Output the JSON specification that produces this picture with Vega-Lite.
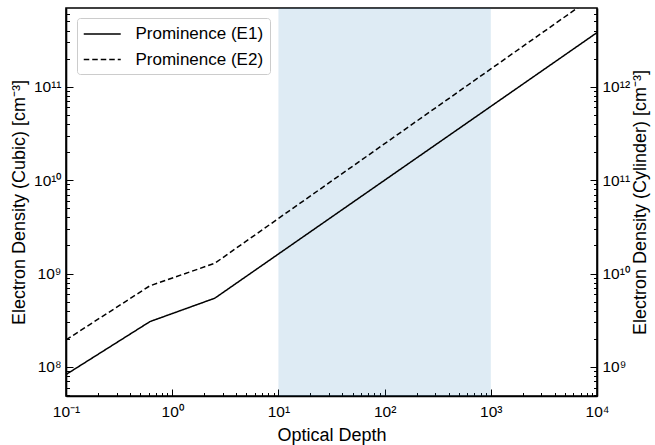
{
  "$schema": "https://vega.github.io/schema/vega-lite/v6.json",
  "width": 531,
  "height": 388,
  "autosize": "none",
  "padding": {"left": 66, "top": 8, "right": 58, "bottom": 49},
  "background": "white",
  "config": {
    "view": {"stroke": "black", "strokeWidth": 1.6},
    "font": "Liberation Sans",
    "axis": {
      "grid": false,
      "domainColor": "black",
      "domainWidth": 1.6,
      "tickColor": "black",
      "tickWidth": 1,
      "labelColor": "black",
      "labelFont": "Liberation Sans",
      "labelFontSize": 15.5,
      "titleColor": "black",
      "titleFont": "Liberation Sans",
      "titleFontSize": 18,
      "titleFontWeight": "normal",
      "labelOverlap": false,
      "labelFlush": false,
      "labelBound": false
    }
  },
  "datasets": {
    "band": [{"start": 10, "end": 1000}],
    "lines": [
      {"depth": 0.1, "density": 8.3e7, "series": "Prominence (E1)"},
      {"depth": 0.617, "density": 3.06e8, "series": "Prominence (E1)"},
      {"depth": 2.52, "density": 5.45e8, "series": "Prominence (E1)"},
      {"depth": 10000, "density": 3.8e11, "series": "Prominence (E1)"},
      {"depth": 0.1, "density": 1.95e8, "series": "Prominence (E2)"},
      {"depth": 0.617, "density": 7.4e8, "series": "Prominence (E2)"},
      {"depth": 2.52, "density": 1.29e9, "series": "Prominence (E2)"},
      {"depth": 10000, "density": 9.8e11, "series": "Prominence (E2)"}
    ]
  },
  "layer": [
    {
      "data": {"name": "band"},
      "mark": {"type": "rect", "color": "#1f77b4", "opacity": 0.15},
      "encoding": {
        "x": {"field": "start", "type": "quantitative", "title": "Optical Depth",
              "scale": {"type": "log", "domain": [0.1, 10000], "nice": false}},
        "x2": {"field": "end"}
      }
    },
    {
      "data": {"name": "lines"},
      "mark": {"type": "line", "strokeWidth": 1.5, "clip": true},
      "encoding": {
        "x": {"field": "depth", "type": "quantitative", "title": "Optical Depth",
              "scale": {"type": "log", "domain": [0.1, 10000], "nice": false},
              "axis": {
                "values": [0.1,0.2,0.3,0.4,0.5,0.6,0.7,0.8,0.9,1,2,3,4,5,6,7,8,9,10,20,30,40,50,60,70,80,90,100,200,300,400,500,600,700,800,900,1000,2000,3000,4000,5000,6000,7000,8000,9000,10000],
                "labelExpr": "datum.value==0.1?'10⁻¹':datum.value==1?'10⁰':datum.value==10?'10¹':datum.value==100?'10²':datum.value==1000?'10³':datum.value==10000?'10⁴':''",
                "tickSize": {"condition": {"test": "abs(log(datum.value)/LN10 - round(log(datum.value)/LN10)) < 0.001", "value": -7}, "value": -3.5},
                "labelPadding": 15,
                "titlePadding": 3
              }},
        "y": {"field": "density", "type": "quantitative", "title": "Electron Density (Cubic) [cm⁻³]",
              "scale": {"type": "log", "domain": [4.89e7, 6.97e11], "nice": false},
              "axis": {
                "values": [5e7,6e7,7e7,8e7,9e7,1e8,2e8,3e8,4e8,5e8,6e8,7e8,8e8,9e8,1e9,2e9,3e9,4e9,5e9,6e9,7e9,8e9,9e9,1e10,2e10,3e10,4e10,5e10,6e10,7e10,8e10,9e10,1e11,2e11,3e11,4e11,5e11,6e11],
                "labelExpr": "datum.value==1e8?'10⁸':datum.value==1e9?'10⁹':datum.value==1e10?'10¹⁰':datum.value==1e11?'10¹¹':''",
                "tickSize": {"condition": {"test": "abs(log(datum.value)/LN10 - round(log(datum.value)/LN10)) < 0.001", "value": -7}, "value": -3.5},
                "labelPadding": 12,
                "titlePadding": 5
              }},
        "color": {"field": "series", "type": "nominal",
                  "scale": {"range": ["black", "black"]},
                  "legend": {
                    "orient": "none", "legendX": 11, "legendY": 10, "title": null,
                    "symbolType": "M-1,0H3", "symbolSize": 342, "symbolStrokeWidth": 1.5,
                    "labelFontSize": 17, "labelFont": "Liberation Sans", "labelColor": "black",
                    "labelOffset": 32.5, "rowPadding": 7.5, "padding": 6,
                    "fillColor": "white", "strokeColor": "#cccccc", "cornerRadius": 3
                  }},
        "strokeDash": {"field": "series", "type": "nominal",
                       "scale": {"range": [[1, 0], [5.5, 3]]}}
      }
    },
    {
      "mark": {"type": "rule", "strokeOpacity": 0},
      "encoding": {
        "y": {"datum": 1e9, "type": "quantitative",
              "scale": {"type": "log", "domain": [4.89e8, 6.97e12], "nice": false},
              "axis": {
                "orient": "right",
                "title": "Electron Density (Cylinder) [cm⁻³]",
                "titleAngle": -90,
                "titleBaseline": "top",
                "values": [5e8,6e8,7e8,8e8,9e8,1e9,2e9,3e9,4e9,5e9,6e9,7e9,8e9,9e9,1e10,2e10,3e10,4e10,5e10,6e10,7e10,8e10,9e10,1e11,2e11,3e11,4e11,5e11,6e11,7e11,8e11,9e11,1e12,2e12,3e12,4e12,5e12,6e12],
                "labelExpr": "datum.value==1e9?'10⁹':datum.value==1e10?'10¹⁰':datum.value==1e11?'10¹¹':datum.value==1e12?'10¹²':''",
                "tickSize": {"condition": {"test": "abs(log(datum.value)/LN10 - round(log(datum.value)/LN10)) < 0.001", "value": -7}, "value": -3.5},
                "labelPadding": 12,
                "titlePadding": 2
              }}
      }
    }
  ],
  "resolve": {"scale": {"y": "independent"}}
}
